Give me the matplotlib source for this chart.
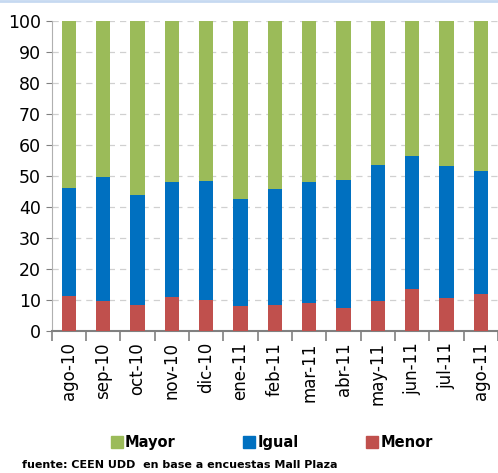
import numpy as np
import matplotlib.pyplot as plt
from matplotlib.lines import Line2D

# datos
meses = ['ago-10', 'sep-10', 'oct-10', 'nov-10', 'dic-10', 'ene-11', 'feb-11',
         'mar-11', 'abr-11', 'may-11', 'jun-11', 'jul-11', 'ago-11']
menor = [11.4, 9.7, 8.4, 11.0, 10.0, 8.2, 8.4, 9.0, 7.5, 9.7, 13.5, 10.7, 12.0]
igual_acum = [46.1, 49.6, 43.8, 48.0, 48.3, 42.5, 45.8, 48.0, 48.7, 53.5, 56.4, 53.2, 51.6]
igual = [a - m for a, m in zip(igual_acum, menor)]
mayor = [100 - a for a in igual_acum]

c_mayor = '#9bbb59'
c_igual = '#0070c0'
c_menor = '#c0504d'

fig = plt.figure(figsize=(4.98, 4.73), dpi=100)
ax = fig.add_axes([0.104, 0.300, 0.896, 0.656])

x = np.arange(len(meses))
w = 0.42
ax.bar(x, menor, w, color=c_menor, label='Menor', zorder=3)
ax.bar(x, igual, w, bottom=menor, color=c_igual, label='Igual', zorder=3)
ax.bar(x, mayor, w, bottom=igual_acum, color=c_mayor, label='Mayor', zorder=3)

ax.set_xlim(-0.5, len(meses) - 0.5)
ax.set_ylim(0, 100)
ax.set_yticks(range(0, 101, 10))
ax.tick_params(axis='y', labelsize=12.5, length=4, color='#808080', pad=4)
ax.yaxis.grid(True, linestyle=(0, (5, 4)), color='#d0d0d0', linewidth=0.9, zorder=0)

ax.set_xticks(x)
ax.set_xticklabels(meses, rotation=90, fontsize=12)
ax.tick_params(axis='x', length=0, pad=8)
ax.set_xticks(np.arange(-0.5, len(meses), 1), minor=True)
ax.tick_params(axis='x', which='minor', length=7, width=1.2, color='#808080')

for s in ['top', 'right']:
    ax.spines[s].set_visible(False)
ax.spines['left'].set_color('#b0b0b0')
ax.spines['bottom'].set_color('#808080')
ax.spines['bottom'].set_linewidth(1.5)

# leyenda
handles = [Line2D([], [], marker='s', linestyle='', markersize=9, color=c)
           for c in (c_mayor, c_igual, c_menor)]
fig.legend(handles, ['Mayor', 'Igual', 'Menor'], loc='center', ncol=3,
           bbox_to_anchor=(0.545, 0.064), frameon=False, handletextpad=0.1,
           columnspacing=4.6, handlelength=0.9, prop={'size': 10.5, 'weight': 'bold'})

fig.text(0.044, 0.017, 'fuente: CEEN UDD  en base a encuestas Mall Plaza',
         fontsize=8, fontweight='bold', va='center')

# línea superior
fig.add_artist(Line2D([0, 1], [0.997, 0.997], color='#c6d9f1', linewidth=2,
                      transform=fig.transFigure))

fig.savefig('out.png', dpi=100)
